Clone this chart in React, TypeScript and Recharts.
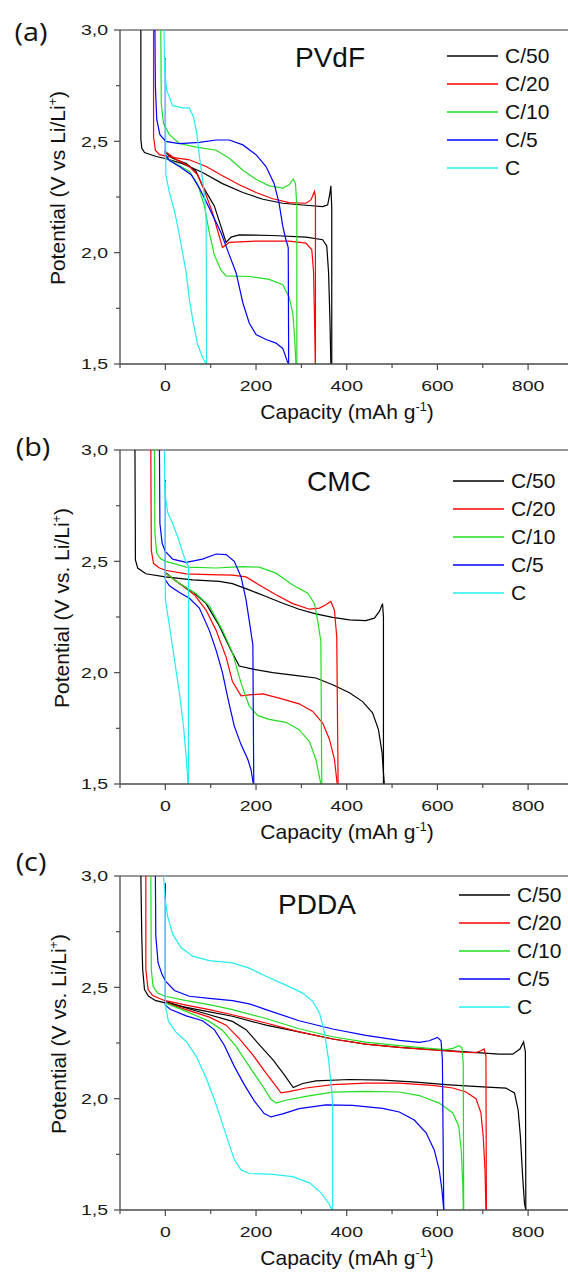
import React from 'react';
import { LineChart, Line, XAxis, YAxis, Legend, ReferenceLine } from 'recharts';

type Pt = [number, number];

const seriesNames = ['C/50', 'C/20', 'C/10', 'C/5', 'C'];
const seriesColors = ['#000000', '#ff0000', '#22dd22', '#0000ff', '#22eef2'];
const xTicks = [-100, 0, 100, 200, 300, 400, 500, 600, 700, 800];
const yTicks = [1.5, 1.75, 2, 2.25, 2.5, 2.75, 3];

// (a) PVdF — charge branch (upper, left to right) and discharge branch (lower)
const pvdfC50Chg: Pt[] = [[-54, 3.0], [-54, 2.51], [-52, 2.47], [-46, 2.45], [-20, 2.432], [0, 2.423], [38, 2.4], [82, 2.36], [126, 2.31], [171, 2.27], [215, 2.24], [259, 2.222], [310, 2.213], [347, 2.207], [358, 2.215], [363, 2.267], [365, 2.3], [367, 2.2], [367, 1.5]];
const pvdfC50Dis: Pt[] = [[0, 2.46], [0, 2.45], [16, 2.424], [46, 2.4], [68, 2.364], [82, 2.3], [108, 2.21], [134, 2.046], [145, 2.07], [163, 2.08], [237, 2.077], [310, 2.07], [347, 2.058], [356, 2.03], [360, 1.91], [363, 1.7], [365, 1.5]];
const pvdfC20Chg: Pt[] = [[-26, 3.0], [-26, 2.52], [-22, 2.46], [-13, 2.44], [9, 2.43], [53, 2.417], [90, 2.387], [126, 2.345], [163, 2.305], [200, 2.27], [237, 2.242], [273, 2.225], [310, 2.222], [321, 2.237], [329, 2.275], [331, 2.25], [331, 1.5]];
const pvdfC20Dis: Pt[] = [[0, 2.454], [23, 2.42], [53, 2.387], [71, 2.35], [86, 2.28], [104, 2.18], [126, 2.023], [141, 2.046], [200, 2.052], [273, 2.052], [310, 2.043], [323, 2.013], [327, 1.91], [329, 1.7], [331, 1.5]];
const pvdfC10Chg: Pt[] = [[-10, 3.0], [-9, 2.67], [-4, 2.58], [9, 2.53], [31, 2.49], [68, 2.474], [112, 2.46], [141, 2.424], [171, 2.37], [200, 2.33], [229, 2.3], [259, 2.29], [273, 2.305], [282, 2.33], [287, 2.31], [290, 2.21], [290, 1.5]];
const pvdfC10Dis: Pt[] = [[0, 2.43], [23, 2.4], [53, 2.365], [71, 2.31], [86, 2.21], [97, 2.09], [108, 1.99], [123, 1.92], [134, 1.896], [185, 1.893], [229, 1.88], [259, 1.856], [273, 1.8], [281, 1.73], [285, 1.62], [288, 1.5]];
const pvdfC5Chg: Pt[] = [[-23, 3.0], [-22, 2.75], [-19, 2.6], [-12, 2.53], [1, 2.5], [31, 2.49], [75, 2.495], [112, 2.506], [141, 2.506], [171, 2.484], [200, 2.44], [222, 2.387], [240, 2.31], [251, 2.22], [259, 2.118], [266, 2.058], [271, 2.023], [272, 1.5]];
const pvdfC5Dis: Pt[] = [[0, 2.873], [0, 2.44], [9, 2.414], [31, 2.387], [57, 2.35], [75, 2.29], [97, 2.2], [123, 2.088], [141, 1.99], [156, 1.91], [171, 1.774], [185, 1.684], [200, 1.632], [222, 1.61], [244, 1.594], [259, 1.57], [270, 1.505]];
const pvdfC1Chg: Pt[] = [[-3, 3.0], [-1.5, 2.82], [3, 2.73], [16, 2.66], [38, 2.65], [53, 2.65], [62, 2.61], [69, 2.54], [76, 2.42], [82, 2.33], [87, 2.24], [90, 2.15], [91, 1.5]];
const pvdfC1Dis: Pt[] = [[0, 2.87], [1, 2.35], [9, 2.27], [20, 2.19], [29, 2.1], [38, 2.0], [46, 1.91], [53, 1.79], [62, 1.68], [71, 1.59], [82, 1.53], [90, 1.5]];

// (b) CMC
const cmcC50Chg: Pt[] = [[-67, 3.0], [-66, 2.506], [-61, 2.47], [-43, 2.444], [0, 2.43], [60, 2.417], [119, 2.41], [148, 2.4], [185, 2.372], [222, 2.342], [259, 2.312], [295, 2.285], [332, 2.264], [369, 2.248], [406, 2.237], [442, 2.234], [461, 2.245], [472, 2.275], [479, 2.31], [481, 2.25], [481, 1.5]];
const cmcC50Dis: Pt[] = [[0, 2.45], [31, 2.4], [60, 2.364], [90, 2.31], [119, 2.21], [145, 2.1], [163, 2.03], [193, 2.016], [237, 2.0], [295, 1.986], [332, 1.976], [369, 1.946], [406, 1.91], [435, 1.87], [457, 1.82], [470, 1.744], [478, 1.64], [481, 1.55], [483, 1.5]];
const cmcC20Chg: Pt[] = [[-32, 3.0], [-31, 2.55], [-26, 2.49], [-13, 2.47], [0, 2.46], [46, 2.444], [97, 2.44], [148, 2.438], [178, 2.43], [207, 2.394], [244, 2.35], [281, 2.31], [318, 2.285], [340, 2.29], [354, 2.305], [365, 2.32], [373, 2.28], [378, 2.16], [381, 1.5]];
const cmcC20Dis: Pt[] = [[0, 2.447], [31, 2.4], [64, 2.35], [90, 2.28], [112, 2.19], [134, 2.07], [148, 1.96], [167, 1.896], [185, 1.9], [215, 1.905], [251, 1.886], [295, 1.86], [325, 1.826], [347, 1.774], [362, 1.7], [373, 1.61], [379, 1.5]];
const cmcC10Chg: Pt[] = [[-24, 3.0], [-23, 2.626], [-19, 2.536], [-10, 2.51], [1.5, 2.5], [46, 2.474], [112, 2.47], [170, 2.476], [207, 2.474], [244, 2.447], [281, 2.394], [314, 2.357], [329, 2.31], [337, 2.22], [343, 2.14], [345, 1.5]];
const cmcC10Dis: Pt[] = [[0, 2.447], [31, 2.4], [68, 2.354], [97, 2.3], [126, 2.19], [148, 2.09], [167, 1.953], [185, 1.85], [204, 1.807], [229, 1.79], [266, 1.777], [295, 1.744], [318, 1.69], [332, 1.61], [343, 1.5]];
const cmcC5Chg: Pt[] = [[-13, 3.0], [-12, 2.67], [-7, 2.58], [0, 2.544], [16, 2.51], [46, 2.495], [82, 2.51], [112, 2.533], [134, 2.53], [152, 2.5], [167, 2.43], [178, 2.327], [187, 2.207], [193, 2.125], [195, 1.5]];
const cmcC5Dis: Pt[] = [[0, 2.865], [0, 2.417], [9, 2.39], [31, 2.36], [53, 2.334], [75, 2.29], [97, 2.19], [112, 2.1], [126, 2.0], [137, 1.893], [152, 1.76], [167, 1.677], [182, 1.61], [189, 1.564], [194, 1.5]];
const cmcC1Chg: Pt[] = [[-2, 3.0], [-1.5, 2.82], [5, 2.72], [16, 2.67], [29, 2.6], [38, 2.54], [47, 2.49], [51, 2.48], [51, 1.5]];
const cmcC1Dis: Pt[] = [[0, 2.86], [0, 2.33], [9, 2.21], [20, 2.06], [31, 1.91], [40, 1.76], [46, 1.62], [50, 1.5]];

// (c) PDDA
const pddaC50Chg: Pt[] = [[-54, 3.0], [-52, 2.73], [-50, 2.58], [-46, 2.49], [-37, 2.46], [-21, 2.44], [0, 2.43], [46, 2.41], [97, 2.39], [148, 2.37], [222, 2.33], [295, 2.3], [369, 2.268], [442, 2.245], [516, 2.23], [589, 2.22], [663, 2.21], [736, 2.2], [766, 2.2], [782, 2.223], [790, 2.255], [794, 2.21], [795, 1.5]];
const pddaC50Dis: Pt[] = [[0, 2.437], [46, 2.407], [97, 2.377], [148, 2.347], [178, 2.31], [207, 2.243], [237, 2.175], [262, 2.108], [282, 2.05], [303, 2.068], [332, 2.08], [406, 2.086], [479, 2.083], [553, 2.074], [626, 2.062], [700, 2.053], [751, 2.047], [770, 2.026], [778, 1.95], [783, 1.83], [788, 1.65], [792, 1.53], [795, 1.5]];
const pddaC20Chg: Pt[] = [[-43, 3.0], [-43, 2.58], [-38, 2.49], [-28, 2.463], [-13, 2.45], [0, 2.44], [46, 2.42], [97, 2.4], [148, 2.377], [222, 2.34], [295, 2.3], [369, 2.268], [442, 2.245], [516, 2.23], [589, 2.219], [663, 2.208], [685, 2.207], [696, 2.215], [703, 2.223], [707, 2.19], [708, 1.5]];
const pddaC20Dis: Pt[] = [[0, 2.432], [46, 2.4], [97, 2.366], [134, 2.33], [163, 2.27], [193, 2.197], [222, 2.115], [244, 2.056], [255, 2.026], [273, 2.032], [310, 2.048], [369, 2.063], [442, 2.07], [516, 2.07], [589, 2.06], [634, 2.048], [663, 2.03], [685, 2.0], [696, 1.936], [701, 1.83], [705, 1.68], [707, 1.5]];
const pddaC10Chg: Pt[] = [[-32, 3.0], [-31, 2.58], [-27, 2.504], [-17, 2.474], [0, 2.46], [46, 2.44], [97, 2.422], [148, 2.4], [222, 2.36], [295, 2.314], [369, 2.278], [442, 2.254], [516, 2.238], [589, 2.225], [619, 2.22], [634, 2.226], [648, 2.238], [654, 2.228], [657, 2.16], [658, 1.5]];
const pddaC10Dis: Pt[] = [[0, 2.43], [46, 2.392], [97, 2.347], [126, 2.307], [156, 2.235], [185, 2.145], [215, 2.055], [233, 1.997], [244, 1.98], [266, 1.993], [310, 2.01], [369, 2.029], [442, 2.033], [516, 2.03], [560, 2.014], [604, 1.98], [634, 1.936], [647, 1.876], [653, 1.757], [656, 1.61], [657, 1.5]];
const pddaC5Chg: Pt[] = [[-22, 3.0], [-21, 2.73], [-16, 2.61], [-7, 2.556], [1.5, 2.526], [20, 2.486], [53, 2.46], [97, 2.45], [148, 2.44], [185, 2.426], [222, 2.4], [295, 2.35], [369, 2.313], [442, 2.284], [516, 2.262], [560, 2.253], [582, 2.26], [600, 2.275], [608, 2.26], [611, 2.175], [614, 1.5]];
const pddaC5Dis: Pt[] = [[0, 2.967], [0, 2.42], [12, 2.4], [46, 2.372], [82, 2.35], [108, 2.31], [130, 2.24], [152, 2.145], [174, 2.063], [196, 1.99], [218, 1.933], [233, 1.918], [259, 1.932], [295, 1.955], [354, 1.972], [413, 1.97], [479, 1.956], [516, 1.94], [549, 1.904], [575, 1.847], [593, 1.77], [604, 1.68], [610, 1.59], [614, 1.5]];
const pddaC1Chg: Pt[] = [[-4, 3.0], [0, 2.89], [5, 2.82], [16, 2.74], [34, 2.68], [60, 2.64], [97, 2.62], [148, 2.61], [185, 2.586], [222, 2.55], [266, 2.51], [303, 2.474], [325, 2.437], [340, 2.385], [351, 2.295], [360, 2.175], [366, 2.056], [369, 1.98], [369, 1.5]];
const pddaC1Dis: Pt[] = [[0, 2.88], [0, 2.46], [1.5, 2.4], [7, 2.347], [23, 2.3], [46, 2.257], [68, 2.19], [90, 2.093], [108, 1.996], [123, 1.906], [137, 1.817], [152, 1.727], [167, 1.68], [185, 1.664], [237, 1.66], [281, 1.65], [318, 1.622], [343, 1.578], [362, 1.525], [367, 1.5]];

const panels = [
  {
    tag: '(a)', title: 'PVdF', vs: 'V vs Li/Li', top: 0,
    curves: [[pvdfC50Chg, pvdfC50Dis], [pvdfC20Chg, pvdfC20Dis], [pvdfC10Chg, pvdfC10Dis], [pvdfC5Chg, pvdfC5Dis], [pvdfC1Chg, pvdfC1Dis]],
    tagPos: [31, 31], titlePos: [330, 58], legendPos: [447, 42], yLabelX: 57,
  },
  {
    tag: '(b)', title: 'CMC', vs: 'V vs. Li/Li', top: 420,
    curves: [[cmcC50Chg, cmcC50Dis], [cmcC20Chg, cmcC20Dis], [cmcC10Chg, cmcC10Dis], [cmcC5Chg, cmcC5Dis], [cmcC1Chg, cmcC1Dis]],
    tagPos: [33, 26], titlePos: [339, 62], legendPos: [453, 47], yLabelX: 61,
  },
  {
    tag: '(c)', title: 'PDDA', vs: 'V vs. Li/Li', top: 846,
    curves: [[pddaC50Chg, pddaC50Dis], [pddaC20Chg, pddaC20Dis], [pddaC10Chg, pddaC10Dis], [pddaC5Chg, pddaC5Dis], [pddaC1Chg, pddaC1Dis]],
    tagPos: [31, 15], titlePos: [317, 59], legendPos: [459, 35], yLabelX: 57.5,
  },
];

const FONT = '"Liberation Sans", Arial, sans-serif';
const AXIS = '#4a4a4a';

const toRows = (pts: Pt[]) => pts.map(([x, y]) => ({ x, y }));

const XTick = (props: any) => {
  const { x, y, payload } = props;
  const v = payload.value;
  const major = v % 200 === 0;
  return (
    <g>
      <line x1={x} y1={y} x2={x} y2={y + (major ? 6 : 4)} stroke={AXIS} strokeWidth={1.2} />
      {major && (
        <text transform={`translate(${x},${y + 27}) scale(1.3,1)`} textAnchor="middle" fontSize={15} fontFamily={FONT} fill="#1a1a1a">
          {v}
        </text>
      )}
    </g>
  );
};

const YTick = (props: any) => {
  const { x, y, payload } = props;
  const v = payload.value;
  const major = Math.abs(v * 2 - Math.round(v * 2)) < 1e-6;
  return (
    <g>
      <line x1={x} y1={y} x2={x - (major ? 6 : 4)} y2={y} stroke={AXIS} strokeWidth={1.2} />
      {major && (
        <text transform={`translate(${x - 12},${y + 5.3}) scale(1.3,1)`} textAnchor="end" fontSize={15} fontFamily={FONT} fill="#1a1a1a">
          {v.toFixed(1).replace('.', ',')}
        </text>
      )}
    </g>
  );
};

// legend rows come straight from the series names / colours
const renderLegend = () => (
  <div style={{ width: 121 }}>
    {seriesNames.map((name, i) => (
      <div key={name} style={{ display: 'flex', alignItems: 'center', height: 28, whiteSpace: 'nowrap' }}>
        <svg width={51} height={6} style={{ display: 'block', flex: '0 0 51px' }}>
          <line x1={0} y1={3} x2={51} y2={3} stroke={seriesColors[i]} strokeWidth={1.5} />
        </svg>
        <span style={{ marginLeft: 7, fontSize: 21, fontFamily: FONT, color: '#111', lineHeight: '28px' }}>{name}</span>
      </div>
    ))}
  </div>
);

const centered: React.CSSProperties = {
  position: 'absolute',
  transform: 'translate(-50%, -50%)',
  whiteSpace: 'nowrap',
  lineHeight: 1,
  color: '#111',
  fontFamily: FONT,
};

export default function App() {
  return (
    <div style={{ position: 'absolute', left: 0, top: 0, width: 568, height: 1275, overflow: 'hidden', background: '#fff' }}>
      {panels.map((p) => (
        <div key={p.tag} style={{ position: 'absolute', left: 0, top: p.top, width: 568, height: 430 }}>
          <LineChart width={568} height={430} margin={{ top: 30, right: 0, bottom: 26, left: 0 }}>
            <XAxis
              dataKey="x"
              type="number"
              domain={[-100, 888]}
              ticks={xTicks}
              interval={0}
              tickSize={0}
              tickMargin={0}
              tickLine={false}
              tick={<XTick />}
              axisLine={{ stroke: AXIS, strokeWidth: 1.3 }}
              height={40}
              allowDataOverflow
            />
            <YAxis
              type="number"
              domain={[1.5, 3]}
              ticks={yTicks}
              interval={0}
              tickSize={0}
              tickMargin={0}
              tickLine={false}
              tick={<YTick />}
              axisLine={{ stroke: AXIS, strokeWidth: 1.3 }}
              width={120}
              allowDataOverflow
            />
            <ReferenceLine y={3} stroke="#777" strokeWidth={1.5} />
            {p.curves.map((c, i) => [
              <Line
                key={`chg${i}`}
                data={toRows(c[0])}
                dataKey="y"
                name={seriesNames[i]}
                type="linear"
                stroke={seriesColors[i]}
                strokeWidth={1.2}
                dot={false}
                activeDot={false}
                isAnimationActive={false}
              />,
              <Line
                key={`dis${i}`}
                data={toRows(c[1])}
                dataKey="y"
                name={`${seriesNames[i]} discharge`}
                legendType="none"
                type="linear"
                stroke={seriesColors[i]}
                strokeWidth={1.2}
                dot={false}
                activeDot={false}
                isAnimationActive={false}
              />,
            ])}
            <Legend
              layout="vertical"
              align="center"
              verticalAlign="middle"
              content={renderLegend}
              wrapperStyle={{ left: p.legendPos[0], top: p.legendPos[1], width: 121 }}
            />
          </LineChart>
          <div style={{ ...centered, left: p.tagPos[0], top: p.tagPos[1], fontSize: 25, fontFamily: '"Open Sans", sans-serif', transform: 'translate(-50%, -50%) scale(1.15, 1)' }}>
            {p.tag}
          </div>
          <div style={{ ...centered, left: p.titlePos[0], top: p.titlePos[1], fontSize: 28 }}>{p.title}</div>
          <div style={{ ...centered, left: p.yLabelX, top: 187.5, fontSize: 21, transform: 'translate(-50%, -50%) rotate(-90deg)' }}>
            Potential ({p.vs}
            <sup style={{ fontSize: '0.6em', lineHeight: 0 }}>+</sup>)
          </div>
          <div style={{ ...centered, left: 347, top: 410.5, fontSize: 21 }}>
            Capacity (mAh g<sup style={{ fontSize: '0.6em', lineHeight: 0 }}>-1</sup>)
          </div>
        </div>
      ))}
    </div>
  );
}
